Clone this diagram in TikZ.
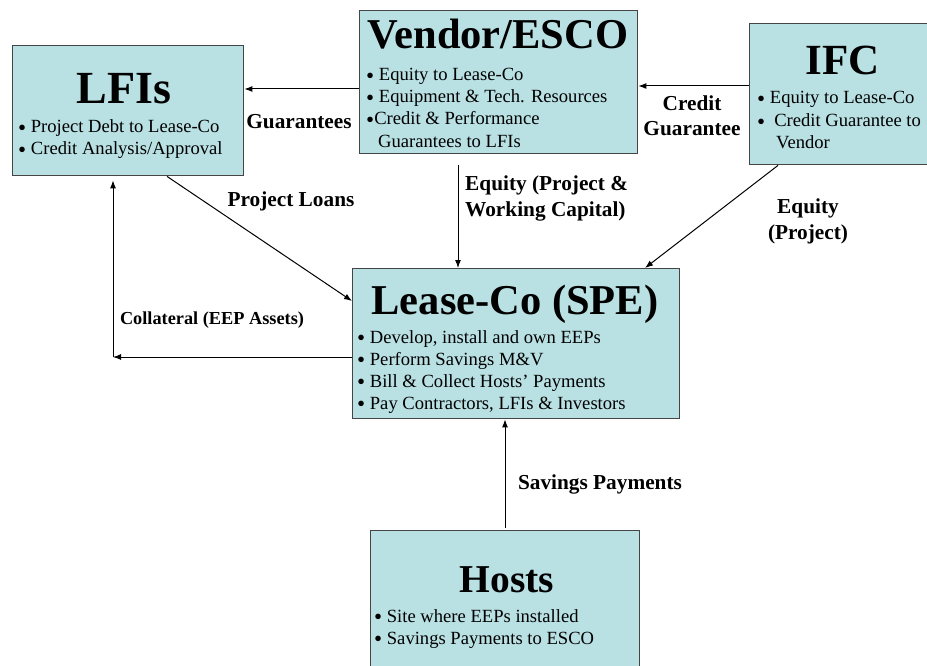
\documentclass[tikz,border=0pt]{standalone}
\usepackage{fontspec}
\setmainfont{Liberation Serif}
\usetikzlibrary{arrows.meta}

\definecolor{boxfill}{HTML}{B9E0E3}
\definecolor{boxline}{HTML}{454545}

\newcommand\ttlfont{\fontsize{42}{46}\selectfont\bfseries}
\newcommand\bdyfont{\fontsize{18.6}{22}\selectfont}
\newcommand\lblfont{\fontsize{21.3}{25}\selectfont\bfseries}
\newcommand\smlfont{\fontsize{18.3}{21}\selectfont\bfseries}
% a slightly heavier list bullet
\newcommand\bul{\raisebox{-2.8pt}{\fontsize{23}{23}\selectfont •}}

\tikzset{
  box/.style={draw=boxline, line width=1.4pt, fill=boxfill, anchor=north west,
              inner sep=0pt},
  ttl/.style={anchor=base, inner sep=0pt, font=\ttlfont},
  itm/.style={anchor=base west, inner sep=0pt, font=\bdyfont},
  lbl/.style={anchor=base, inner sep=0pt, font=\lblfont, align=center},
  arr/.style={line width=1pt, -{Latex[length=8pt,width=6pt]}}
}

\begin{document}
\begin{tikzpicture}[x=1pt, y=-1pt]
\useasboundingbox (0,0) rectangle (927,666);

% ---------- boxes ----------
\node[box, minimum width=231pt, minimum height=130pt] (lfi)    at (12,45)   {};
\node[box, minimum width=278pt, minimum height=143pt] (vendor) at (359,10)  {};
\node[box, minimum width=178pt, minimum height=141pt] (ifc)    at (749,23)  {};
\node[box, minimum width=327pt, minimum height=150pt] (lease)  at (352,268) {};
\node[box, minimum width=269pt, minimum height=150pt] (hosts)  at (370,530) {};

% ---------- LFIs ----------
\node[ttl, font=\fontsize{46}{50}\selectfont\bfseries] (lfiT) at (124,104) {LFIs};
\node[itm] (lfiA) at (18,133) {\bul\ Project Debt to Lease-Co};
\node[itm] (lfiB) at (18,155) {\bul\ Credit Analysis/Approval};

% ---------- Vendor/ESCO ----------
\node[ttl, font=\fontsize{42.5}{47}\selectfont\bfseries] (venT) at (498,49) {Vendor/ESCO};
\node[itm] (venA) at (366,81)  {\bul\ Equity to Lease-Co};
\node[itm] (venB) at (366,103) {\bul\ Equipment \& Tech. Resources};
\node[itm] (venC) at (366,125) {\bul Credit \& Performance};
\node[itm] (venD) at (378,148) {Guarantees to LFIs};

% ---------- IFC ----------
\node[ttl, font=\fontsize{43}{47}\selectfont\bfseries] (ifcT) at (843,75) {IFC};
\node[itm] (ifcA) at (757,104) {\bul\ Equity to Lease-Co};
\node[itm] (ifcB) at (757,127) {\bul\hspace{9pt}Credit Guarantee to};
\node[itm] (ifcC) at (776,149) {Vendor};

% ---------- Lease-Co ----------
\node[ttl, font=\fontsize{42.5}{46}\selectfont\bfseries] (leaseT) at (515,314) {Lease-Co (SPE)};
\node[itm] (leaseA) at (357,343) {\bul\ Develop, install and own EEPs};
\node[itm] (leaseB) at (357,365) {\bul\ Perform Savings M\&V};
\node[itm] (leaseC) at (357,387) {\bul\ Bill \& Collect Hosts’ Payments};
\node[itm] (leaseD) at (357,409) {\bul\ Pay Contractors, LFIs \& Investors};

% ---------- Hosts ----------
\node[ttl, font=\fontsize{39.5}{43}\selectfont\bfseries] (hostsT) at (507,592) {Hosts};
\node[itm] (hostsA) at (374,622) {\bul\ Site where EEPs installed};
\node[itm] (hostsB) at (374,644) {\bul\ Savings Payments to ESCO};

% ---------- connectors ----------
\coordinate (corner) at (113,357);
\draw[arr] (vendor.west |- 0,89) -- (lfi.east |- 0,89);
\draw[arr] (ifc.west |- 0,86) -- (vendor.east |- 0,86);
\draw[arr] (lfi.south -| 167,0) -- (lease.west |- 0,301);
\draw[arr, shorten <=11pt] (vendor.south -| 458,0) -- (lease.north -| 458,0);
\draw[arr] (ifc.south -| 778,0) -- (lease.north -| 645,0);
\draw[arr] (lease.west |- corner) -- (corner);
\draw[arr, shorten >=4pt] (corner) -- (lfi.south -| corner);
\draw[arr, shorten <=2pt] (hosts.north -| 505,0) -- (lease.south -| 505,0);

% ---------- connector labels (base = last line) ----------
\node[lbl] (lGuar)  at (299,129) {Guarantees};
\node[lbl] (lCred)  at (692,136) {Credit\\Guarantee};
\node[lbl] (lLoans) at (291,207) {Project Loans};
\node[lbl, anchor=base west, align=left] (lEqV) at (465,216) {Equity (Project \&\\Working Capital)};
\node[lbl] (lEqI)   at (808,239) {Equity\\(Project)};
\node[lbl, font=\smlfont] (lColl) at (212,324) {Collateral (EEP Assets)};
\node[lbl] (lSave)  at (600,489) {Savings Payments};
\end{tikzpicture}
\end{document}
